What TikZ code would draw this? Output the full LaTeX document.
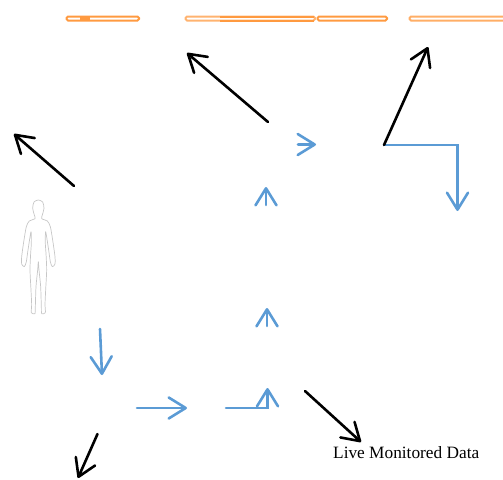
\documentclass[tikz,border=0pt]{standalone}
\usepackage{fontspec}
\setmainfont{Liberation Serif}
\usetikzlibrary{arrows.meta}
\definecolor{flowblue}{HTML}{5B9BD5}
\definecolor{barorange}{HTML}{FF9A40}
\tikzset{
  x=1pt,y=-1pt,
  headtip/.style={-{Straight Barb[length=17pt,width=21pt,line width=2.6pt,round]}},
  blackarrow/.style={headtip,draw=black,line width=2.6pt,line cap=round},
  bluearrow/.style={headtip,draw=flowblue,line width=2.6pt,line cap=round,line join=miter},
  orangebar/.style={draw=barorange,line width=2pt,rounded corners=1.5pt,fill=white,inner sep=0pt},
  bodyline/.style={draw=black!22,line width=0.7pt,line join=round},
  caption/.style={inner sep=0pt,anchor=base west,font=\fontsize{17.3}{19}\selectfont}
}
\begin{document}
\begin{tikzpicture}
\useasboundingbox (0,0) rectangle (503,479);
% orange bars
\draw[orangebar] (66.5,16.5) rectangle (139,20.5);
\fill[barorange] (80,16) rectangle (90,21);
\draw[orangebar,draw=barorange!75] (185.5,16.5) rectangle (315,20.5);
\draw[barorange,line width=2pt] (220,20.5) -- (314,20.5) (220,16.5) -- (314,16.5);
\draw[orangebar] (317.5,16.5) rectangle (387,20.5);
\draw[orangebar,draw=barorange!80] (409.5,16.5) rectangle (506,20.5);
% coordinates
\coordinate (a1) at (268,122); \coordinate (a2) at (187,53);
\coordinate (b1) at (74,186);  \coordinate (b2) at (14,134);
\coordinate (c1) at (384,145); \coordinate (c2) at (428,47);
\coordinate (d1) at (97.5,434);\coordinate (d2) at (78,478);
\coordinate (e1) at (305,391); \coordinate (e2) at (361,442);
\coordinate (f1) at (100,329); \coordinate (f2) at (102,375);
\coordinate (g1) at (137,408); \coordinate (g2) at (187,408);
\coordinate (h1) at (226,408); \coordinate (h2) at (267.5,408); \coordinate (h3) at (267.5,388);
\coordinate (i1) at (267,326); \coordinate (i2) at (267,308);
\coordinate (j1) at (266,205); \coordinate (j2) at (266,187);
\coordinate (k1) at (298,144.5); \coordinate (k2) at (316,144.5);
\coordinate (l2) at (457.5,145); \coordinate (l3) at (457.5,211);
% blue arrows
\draw[bluearrow] (c1) -- (l2) -- (l3);
\draw[bluearrow] (f1) -- (f2);
\draw[bluearrow] (g1) -- (g2);
\draw[bluearrow] (h1) -- (h2) -- (h3);
\draw[bluearrow] (i1) -- (i2);
\draw[bluearrow] (j1) -- (j2);
\draw[bluearrow] (k1) -- (k2);
% black arrows
\draw[blackarrow] (a1) -- (a2);
\draw[blackarrow] (b1) -- (b2);
\draw[blackarrow] (c1) -- (c2);
\draw[blackarrow] (d1) -- (d2);
\draw[blackarrow] (e1) -- (e2);
% human figure
\begin{scope}[shift={(10,190)},x=0.3333pt,y=-0.3333pt]
\draw[bodyline] plot[smooth cycle,tension=0.45] coordinates {
 (85,30)(98,36)(102,55)(97,75)(95,86)(112,93)(121,110)(128,150)(135,200)(135,222)(127,230)(121,215)(116,180)(107,125)
 (106,160)(108,190)(110,240)(107,300)(105,345)(106,368)(95,371)(94,350)(92,290)(87,240)(85,215)
 (83,240)(78,290)(76,350)(75,371)(64,368)(65,345)(63,300)(60,240)(62,190)(64,160)(63,125)
 (54,180)(49,215)(43,230)(35,222)(35,200)(42,150)(49,110)(58,93)(75,86)(73,75)(68,55)(72,36)};
\end{scope}
% label
\node[caption] (live) at (333,458) {Live Monitored Data};
\end{tikzpicture}
\end{document}
